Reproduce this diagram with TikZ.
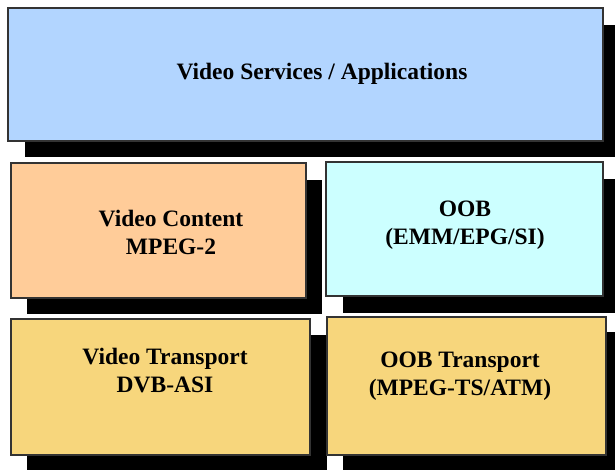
\documentclass[tikz,border=0pt]{standalone}
\usepackage{fontspec}
\setmainfont{Liberation Serif}
\definecolor{svcblue}{RGB}{178,213,255}
\definecolor{contentpeach}{RGB}{255,204,153}
\definecolor{oobcyan}{RGB}{204,255,255}
\definecolor{transportgold}{RGB}{247,214,124}
\tikzset{
  layer/.style={draw=black!80, line width=1.1bp},
  drop/.style={fill=black},
  lbl/.style={font=\fontsize{23.5bp}{28bp}\selectfont\bfseries, align=center, inner sep=0pt},
}
\begin{document}
\begin{tikzpicture}[x=1bp, y=-1bp]
\useasboundingbox (0,0) rectangle (615,470);
\fill[white] (0,0) rectangle (615,470);
\clip (0,0) rectangle (615,470);
% drop shadows
\fill[drop] (25,25) rectangle (620,157);
\fill[drop] (27,180) rectangle (322,314);
\fill[drop] (343,179) rectangle (620,313);
\fill[drop] (27,335) rectangle (327,475);
\fill[drop] (343,332) rectangle (620,475);
% layer boxes
\draw[layer, fill=svcblue] (8,8) rectangle (603,141);
\draw[layer, fill=contentpeach] (11,163) rectangle (306,298);
\draw[layer, fill=oobcyan] (326,162) rectangle (603,296);
\draw[layer, fill=transportgold] (11,319) rectangle (310,455);
\draw[layer, fill=transportgold] (327,317) rectangle (606,455);
% labels
\node[lbl] (svc) at (322,74) {Video Services / Applications};
\node[lbl] (content) at (171,232) {Video Content\\MPEG-2};
\node[lbl] (oob) at (465,225) {OOB\\(EMM/EPG/SI)};
\node[lbl] (vtrans) at (165,371) {Video Transport\\DVB-ASI};
\node[lbl] (otrans) at (460,376) {OOB Transport\\(MPEG-TS/ATM)};
\end{tikzpicture}
\end{document}
